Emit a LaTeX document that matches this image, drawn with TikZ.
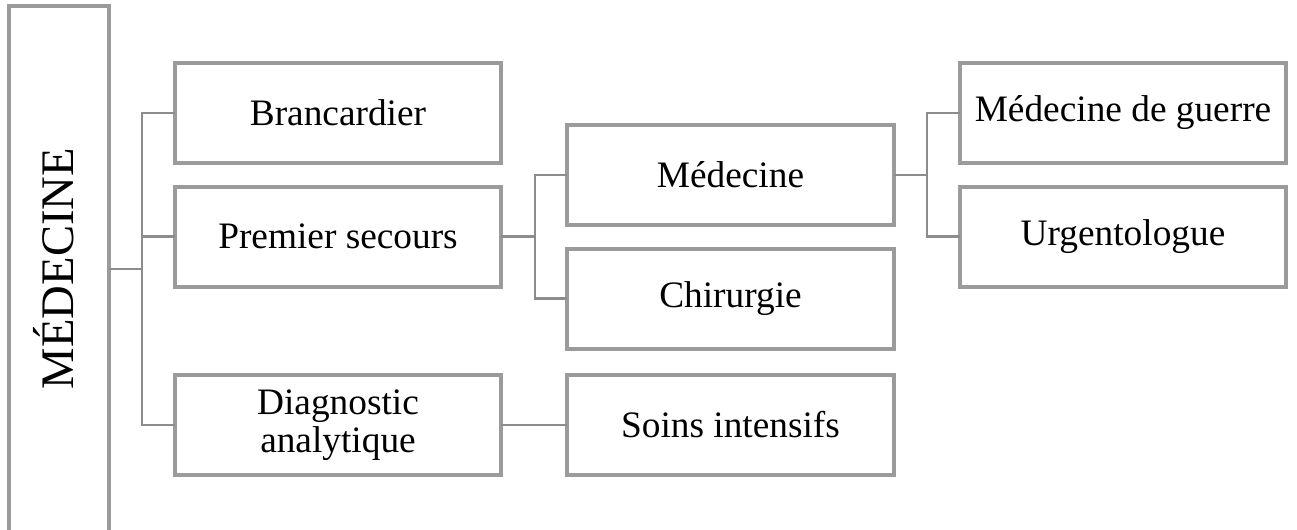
\documentclass[tikz,border=0pt]{standalone}
\usepackage{fontspec}
\setmainfont{Liberation Serif}
\definecolor{boxgray}{RGB}{155,155,155}
\definecolor{linegray}{RGB}{140,140,140}
\begin{document}
\begin{tikzpicture}[x=0.75pt,y=-0.75pt,
  box/.style={draw=boxgray,line width=3pt,rectangle,minimum width=245pt,minimum height=75pt,outer sep=0pt,inner sep=0pt,align=center,font=\fontsize{28}{28}\selectfont},
  titlebox/.style={draw=boxgray,line width=3pt,rectangle,minimum width=75pt,minimum height=450pt,outer sep=0pt},
  link/.style={draw=linegray,line width=2.2pt}]
\useasboundingbox (0,0) rectangle (1297,529);
\begin{scope}
\clip (0,0) rectangle (1297,529);
\node[titlebox] (title) at (59,306) {};
\end{scope}
\node[rotate=90,anchor=base,font=\fontsize{35}{35}\selectfont] (titletext) at (73,268.5) {MÉDECINE};
\node[box] (brancardier) at (338,113) {Brancardier};
\node[box] (premier) at (338,236.5) {Premier secours};
\node[box] (diagnostic) at (338,425) {Diagnostic\\analytique};
\node[box] (medecine) at (730.5,175) {Médecine};
\node[box] (chirurgie) at (730.5,298.5) {Chirurgie};
\node[box] (soins) at (730.5,425) {Soins intensifs};
\node[box] (guerre) at (1123,113) {Médecine de guerre};
\node[box] (urgento) at (1123,236.5) {Urgentologue};
\coordinate (tj) at (142,269);
\coordinate (pj) at (535,236.5);
\coordinate (mj) at (927,175);
\draw[link] (title.east |- tj) -- (tj);
\draw[link] (brancardier.west) -| (tj) |- (diagnostic.west);
\draw[link] (premier.west) -- (premier.west -| tj);
\draw[link] (premier.east) -- (pj);
\draw[link] (medecine.west) -| (pj) |- (chirurgie.west);
\draw[link] (medecine.east) -- (mj);
\draw[link] (guerre.west) -| (mj) |- (urgento.west);
\draw[link] (diagnostic.east) -- (soins.west);
\end{tikzpicture}
\end{document}
